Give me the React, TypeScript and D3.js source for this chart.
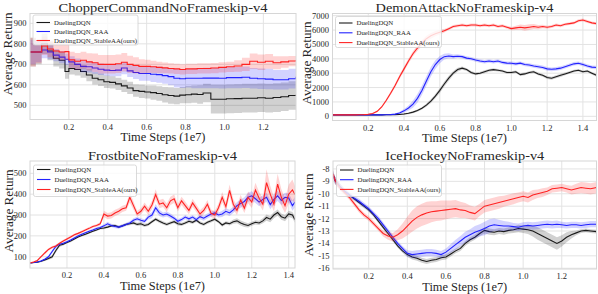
import React from "react";
import * as d3 from "d3";

const seriesNames = ["DuelingDQN", "DuelingDQN_RAA", "DuelingDQN_StableAA(ours)"];
const seriesColors = ["#1a1a1a", "#2222ff", "#ff2222"];

// ChopperCommand (step curves)
const chopperX = [0, 0.03, 0.06, 0.09, 0.12, 0.15, 0.18, 0.2, 0.23, 0.26, 0.29, 0.32, 0.35, 0.38, 0.41, 0.44, 0.47, 0.5, 0.53, 0.56, 0.59, 0.62, 0.65, 0.68, 0.71, 0.74, 0.77, 0.8, 0.83, 0.86, 0.89, 0.93, 0.97, 1.01, 1.05, 1.09, 1.13, 1.17, 1.21, 1.25, 1.29, 1.33, 1.368];
const chopperDqn = [760, 760, 800, 765, 730, 720, 665, 680, 675, 665, 648, 632, 625, 615, 612, 605, 595, 585, 572, 568, 565, 562, 558, 552, 548, 545, 550, 552, 555, 553, 560, 530, 530, 532, 533, 535, 535, 537, 535, 538, 542, 548, 552];
const chopperDqnBand = [70, 60, 50, 45, 40, 40, 35, 30, 30, 30, 30, 30, 30, 30, 30, 30, 30, 30, 30, 32, 32, 35, 35, 38, 40, 40, 40, 42, 42, 45, 45, 70, 70, 70, 70, 70, 70, 70, 70, 70, 70, 70, 70];
const chopperRaa = [760, 760, 770, 760, 745, 735, 725, 712, 700, 690, 688, 682, 676, 672, 670, 672, 682, 668, 660, 655, 655, 652, 650, 645, 640, 632, 630, 632, 632, 632, 633, 633, 632, 635, 635, 637, 632, 630, 628, 625, 625, 630, 640];
const chopperRaaBand = [60, 50, 40, 35, 30, 30, 28, 28, 28, 28, 28, 28, 28, 28, 28, 30, 30, 30, 32, 35, 35, 38, 40, 40, 42, 45, 45, 45, 48, 48, 50, 50, 50, 52, 52, 52, 50, 50, 50, 48, 48, 48, 48];
const chopperOurs = [760, 760, 790, 775, 765, 760, 762, 722, 715, 720, 712, 708, 700, 700, 700, 703, 710, 700, 695, 690, 690, 688, 685, 683, 680, 678, 675, 678, 678, 680, 680, 682, 685, 688, 692, 700, 715, 710, 715, 708, 712, 716, 720];
const chopperOursBand = [70, 55, 45, 40, 40, 40, 40, 40, 40, 42, 42, 45, 45, 45, 45, 45, 45, 42, 40, 35, 32, 30, 28, 26, 25, 25, 25, 25, 25, 25, 25, 25, 25, 25, 28, 32, 38, 38, 36, 32, 28, 25, 22];

// DemonAttack
const demonX = [0, 0.025, 0.05, 0.075, 0.1, 0.125, 0.15, 0.175, 0.2, 0.225, 0.25, 0.275, 0.3, 0.325, 0.35, 0.375, 0.4, 0.425, 0.45, 0.475, 0.5, 0.525, 0.55, 0.575, 0.6, 0.625, 0.65, 0.675, 0.7, 0.725, 0.75, 0.775, 0.8, 0.825, 0.85, 0.875, 0.9, 0.925, 0.95, 0.975, 1.0, 1.025, 1.05, 1.075, 1.1, 1.125, 1.15, 1.175, 1.2, 1.225, 1.25, 1.275, 1.3, 1.325, 1.35, 1.375, 1.4, 1.425, 1.45, 1.476];
const demonDqn = [100, 100, 100, 100, 100, 100, 100, 100, 100, 100, 100, 100, 105, 110, 115, 130, 160, 210, 290, 400, 560, 780, 1050, 1400, 1800, 2250, 2650, 3000, 3250, 3350, 3250, 3050, 2950, 3000, 3100, 3200, 3250, 3200, 3150, 3050, 3050, 3100, 2900, 2950, 3050, 3100, 2950, 2850, 2700, 2650, 2750, 2850, 2950, 3050, 3150, 3200, 3100, 3150, 3000, 2850];
const demonDqnBand = [20, 20, 20, 20, 20, 20, 20, 20, 20, 20, 20, 20, 20, 25, 30, 40, 50, 60, 70, 80, 90, 110, 130, 150, 170, 180, 170, 150, 130, 110, 100, 100, 100, 100, 100, 100, 90, 90, 90, 90, 90, 90, 90, 90, 90, 90, 90, 90, 110, 110, 110, 110, 90, 90, 90, 90, 90, 90, 90, 90];
const demonRaa = [100, 100, 100, 100, 100, 100, 100, 100, 100, 100, 100, 100, 105, 115, 150, 230, 380, 580, 850, 1250, 1800, 2450, 3100, 3600, 3950, 4150, 4200, 4150, 4180, 4150, 4050, 4000, 3920, 3850, 3800, 3850, 3800, 3850, 3750, 3700, 3690, 3650, 3700, 3600, 3570, 3500, 3450, 3400, 3300, 3270, 3300, 3350, 3450, 3550, 3650, 3690, 3600, 3500, 3420, 3400];
const demonRaaBand = [20, 20, 20, 20, 20, 20, 20, 20, 20, 20, 20, 20, 20, 30, 50, 80, 120, 180, 250, 300, 320, 330, 330, 300, 250, 200, 180, 150, 130, 120, 120, 120, 120, 120, 120, 120, 120, 120, 120, 120, 120, 120, 120, 120, 130, 130, 130, 130, 130, 130, 130, 130, 120, 120, 120, 120, 120, 120, 120, 120];
const demonOurs = [100, 100, 100, 100, 100, 100, 105, 115, 140, 200, 350, 650, 1100, 1600, 2150, 2750, 3300, 3850, 4350, 4750, 5100, 5400, 5600, 5750, 5850, 5950, 6100, 6250, 6300, 6350, 6300, 6350, 6350, 6300, 6350, 6300, 6350, 6250, 6300, 6200, 6100, 6150, 6200, 6150, 6200, 6250, 6200, 6250, 6200, 6250, 6350, 6300, 6400, 6450, 6500, 6650, 6700, 6600, 6500, 6450];
const demonOursBand = [20, 20, 20, 20, 20, 20, 20, 20, 30, 40, 60, 80, 100, 120, 140, 150, 160, 170, 180, 190, 200, 200, 200, 180, 150, 120, 100, 100, 100, 100, 100, 100, 100, 100, 100, 100, 100, 100, 100, 100, 120, 150, 180, 200, 200, 180, 150, 120, 100, 100, 100, 100, 100, 100, 100, 100, 100, 100, 100, 100];

// Frostbite
const frostX = [0, 0.02, 0.04, 0.06, 0.08, 0.1, 0.12, 0.14, 0.16, 0.18, 0.2, 0.22, 0.24, 0.26, 0.28, 0.3, 0.32, 0.34, 0.36, 0.38, 0.4, 0.42, 0.44, 0.46, 0.48, 0.5, 0.52, 0.54, 0.56, 0.58, 0.6, 0.62, 0.64, 0.66, 0.68, 0.7, 0.72, 0.74, 0.76, 0.78, 0.8, 0.82, 0.84, 0.86, 0.88, 0.9, 0.92, 0.94, 0.96, 0.98, 1.0, 1.02, 1.04, 1.06, 1.08, 1.1, 1.12, 1.14, 1.16, 1.18, 1.2, 1.22, 1.24, 1.26, 1.28, 1.3, 1.32, 1.34, 1.36, 1.38, 1.4, 1.42, 1.434];
const frostDqn = [70, 72, 74, 78, 85, 92, 100, 130, 155, 160, 168, 175, 185, 195, 202, 208, 215, 222, 228, 235, 238, 242, 248, 250, 242, 248, 255, 258, 262, 255, 258, 250, 255, 268, 280, 270, 262, 255, 262, 268, 258, 255, 262, 270, 265, 275, 262, 255, 265, 272, 280, 268, 252, 262, 258, 268, 272, 262, 255, 250, 258, 265, 262, 272, 288, 280, 300, 312, 292, 285, 305, 300, 278];
const frostDqnBand = [3, 3, 3, 4, 5, 6, 8, 10, 8, 6, 5, 5, 5, 5, 5, 5, 5, 5, 5, 5, 6, 6, 6, 6, 6, 6, 6, 7, 8, 8, 8, 8, 8, 8, 8, 8, 8, 8, 8, 8, 8, 8, 8, 8, 8, 8, 8, 8, 8, 8, 8, 8, 8, 8, 8, 10, 12, 12, 12, 10, 10, 10, 10, 12, 15, 15, 15, 15, 15, 15, 15, 15, 15];
const frostRaa = [70, 72, 75, 80, 88, 100, 125, 150, 160, 165, 172, 180, 190, 200, 208, 215, 222, 228, 235, 240, 248, 258, 250, 245, 242, 248, 255, 262, 275, 282, 275, 270, 290, 300, 335, 310, 300, 305, 295, 285, 270, 278, 290, 282, 290, 278, 292, 285, 295, 305, 310, 300, 305, 318, 310, 325, 345, 355, 365, 385, 392, 378, 362, 375, 385, 350, 375, 392, 370, 385, 382, 345, 362];
const frostRaaBand = [3, 3, 3, 4, 5, 6, 8, 8, 6, 5, 5, 5, 5, 5, 5, 5, 5, 6, 6, 6, 8, 10, 8, 8, 8, 8, 8, 8, 10, 10, 10, 10, 12, 15, 18, 15, 12, 12, 12, 10, 10, 10, 10, 10, 10, 10, 12, 12, 12, 12, 12, 12, 15, 15, 15, 15, 18, 20, 20, 22, 22, 20, 20, 20, 22, 22, 25, 25, 22, 22, 22, 25, 25];
const frostOurs = [70, 75, 82, 100, 118, 135, 145, 152, 165, 175, 185, 195, 205, 212, 220, 228, 236, 245, 250, 258, 305, 295, 298, 310, 318, 330, 335, 385, 345, 305, 318, 342, 318, 348, 398, 352, 358, 335, 368, 378, 335, 368, 345, 322, 358, 332, 305, 322, 352, 308, 300, 335, 385, 340, 418, 352, 322, 372, 332, 385, 362, 420, 380, 352, 455, 400, 352, 448, 385, 345, 400, 420, 398];
const frostOursBand = [3, 3, 4, 5, 6, 6, 6, 6, 6, 6, 6, 6, 6, 6, 6, 6, 6, 6, 6, 8, 15, 15, 15, 15, 15, 15, 15, 25, 20, 15, 15, 18, 18, 20, 25, 20, 20, 20, 20, 20, 18, 20, 20, 18, 20, 18, 18, 18, 20, 18, 18, 20, 25, 22, 28, 25, 22, 25, 22, 28, 28, 35, 30, 30, 65, 40, 35, 50, 40, 35, 45, 50, 40];

// IceHockey
const iceX = [0.015, 0.025, 0.05, 0.075, 0.1, 0.125, 0.15, 0.175, 0.2, 0.225, 0.25, 0.275, 0.3, 0.325, 0.35, 0.375, 0.4, 0.425, 0.45, 0.475, 0.5, 0.525, 0.55, 0.575, 0.6, 0.625, 0.65, 0.675, 0.7, 0.725, 0.75, 0.775, 0.8, 0.825, 0.85, 0.875, 0.9, 0.925, 0.95, 0.975, 1.0, 1.025, 1.05, 1.075, 1.1, 1.125, 1.15, 1.175, 1.2, 1.225, 1.25, 1.275, 1.3, 1.325, 1.35, 1.38];
const iceDqn = [-8.4, -8.9, -9.4, -9.8, -10.1, -10.4, -10.7, -11.0, -11.3, -11.7, -12.2, -12.7, -13.2, -13.7, -14.2, -14.6, -14.9, -15.1, -15.2, -15.35, -15.45, -15.35, -15.3, -15.15, -15.1, -14.85, -14.6, -14.4, -14.0, -13.7, -13.5, -13.2, -12.95, -13.05, -13.1, -13.0, -13.05, -12.95, -12.9, -12.8, -12.85, -12.9, -13.0, -13.2, -13.4, -13.6, -13.8, -14.0, -13.8, -13.5, -13.3, -13.15, -13.0, -12.95, -13.0, -13.05];
const iceDqnBand = [0.3, 0.3, 0.25, 0.2, 0.15, 0.15, 0.15, 0.15, 0.15, 0.15, 0.15, 0.15, 0.15, 0.15, 0.15, 0.15, 0.2, 0.2, 0.2, 0.2, 0.2, 0.2, 0.2, 0.2, 0.2, 0.2, 0.2, 0.2, 0.2, 0.2, 0.2, 0.2, 0.25, 0.25, 0.25, 0.25, 0.25, 0.25, 0.25, 0.3, 0.3, 0.35, 0.45, 0.5, 0.5, 0.5, 0.5, 0.5, 0.45, 0.4, 0.3, 0.2, 0.15, 0.15, 0.15, 0.15];
const iceRaa = [-8.4, -8.9, -9.4, -9.8, -10.1, -10.35, -10.6, -10.9, -11.2, -11.6, -12.0, -12.5, -13.0, -13.5, -14.0, -14.4, -14.8, -14.9, -14.85, -14.8, -14.75, -14.75, -14.8, -14.9, -14.7, -14.4, -14.1, -13.8, -13.5, -13.3, -13.1, -12.95, -12.8, -12.6, -12.5, -12.55, -12.6, -12.6, -12.65, -12.7, -12.6, -12.55, -12.6, -12.55, -12.5, -12.45, -12.5, -12.45, -12.5, -12.55, -12.5, -12.5, -12.55, -12.5, -12.45, -12.45];
const iceRaaBand = [0.3, 0.3, 0.25, 0.2, 0.2, 0.2, 0.2, 0.2, 0.2, 0.2, 0.2, 0.2, 0.2, 0.2, 0.2, 0.2, 0.25, 0.3, 0.3, 0.3, 0.3, 0.3, 0.3, 0.3, 0.3, 0.35, 0.4, 0.4, 0.45, 0.45, 0.5, 0.5, 0.55, 0.55, 0.5, 0.45, 0.4, 0.35, 0.3, 0.3, 0.3, 0.3, 0.3, 0.3, 0.3, 0.3, 0.3, 0.3, 0.25, 0.25, 0.25, 0.25, 0.25, 0.25, 0.25, 0.25];
const iceOurs = [-8.4, -8.9, -9.5, -9.9, -10.3, -10.8, -11.3, -11.7, -12.0, -12.4, -12.8, -13.2, -13.4, -13.5, -13.3, -13.0, -12.6, -12.2, -11.9, -11.7, -11.55, -11.45, -11.4, -11.35, -11.3, -11.25, -11.2, -11.3, -11.35, -11.5, -11.6, -11.3, -11.0, -10.9, -10.8, -10.7, -10.6, -10.5, -10.4, -10.3, -10.2, -10.3, -10.1, -10.0, -9.9, -9.8, -9.6, -9.55, -9.5, -9.6, -9.7, -9.6, -9.5, -9.55, -9.6, -9.5];
const iceOursBand = [0.3, 0.3, 0.25, 0.2, 0.2, 0.2, 0.2, 0.2, 0.2, 0.2, 0.2, 0.25, 0.3, 0.35, 0.45, 0.6, 0.75, 0.85, 0.9, 0.9, 0.9, 0.85, 0.8, 0.8, 0.75, 0.7, 0.7, 0.65, 0.6, 0.55, 0.55, 0.5, 0.5, 0.5, 0.5, 0.5, 0.45, 0.45, 0.45, 0.4, 0.4, 0.4, 0.4, 0.35, 0.35, 0.3, 0.3, 0.3, 0.3, 0.3, 0.35, 0.4, 0.45, 0.45, 0.45, 0.45];

const serif = "Liberation Serif, DejaVu Serif, serif";
const ink = "#262626";
const gridColor = "#e3e3e3";

const panels = [
  {
    id: "chopper", title: "ChopperCommandNoFrameskip-v4", titleW: 209, xs: chopperX,
    series: [
      { mean: chopperDqn, band: chopperDqnBand },
      { mean: chopperRaa, band: chopperRaaBand },
      { mean: chopperOurs, band: chopperOursBand },
    ],
    xDomain: [0, 1.368], yDomain: [431, 948],
    xTicks: [0.2, 0.4, 0.6, 0.8, 1.0, 1.2], yTicks: [500, 600, 700, 800, 900],
    box: { left: 30, top: 13.5, right: 296, bottom: 119.5 },
    legend: { x: 33, y: 15, w: 105, h: 30, first: 7.5, dy: 9 },
    yLabelX: 12, yLabelY: 54, curve: d3.curveStepAfter,
  },
  {
    id: "demon", title: "DemonAttackNoFrameskip-v4", titleW: 178, xs: demonX,
    series: [
      { mean: demonDqn, band: demonDqnBand },
      { mean: demonRaa, band: demonRaaBand },
      { mean: demonOurs, band: demonOursBand },
    ],
    xDomain: [0, 1.476], yDomain: [-292, 7153],
    xTicks: [0.2, 0.4, 0.6, 0.8, 1.0, 1.2, 1.4], yTicks: [0, 1000, 2000, 3000, 4000, 5000, 6000, 7000],
    box: { left: 332.5, top: 13.5, right: 596.5, bottom: 120.5 },
    legend: { x: 335.5, y: 16.5, w: 106, h: 31, first: 6.5, dy: 9.8 },
    yLabelX: 311, yLabelY: 63, curve: d3.curveLinear,
  },
  {
    id: "frost", title: "FrostbiteNoFrameskip-v4", titleW: 149, xs: frostX,
    series: [
      { mean: frostDqn, band: frostDqnBand },
      { mean: frostRaa, band: frostRaaBand },
      { mean: frostOurs, band: frostOursBand },
    ],
    xDomain: [0, 1.434], yDomain: [46, 559],
    xTicks: [0.2, 0.4, 0.6, 0.8, 1.0, 1.2, 1.4], yTicks: [100, 200, 300, 400, 500],
    box: { left: 30, top: 161, right: 295, bottom: 268 },
    legend: { x: 33.5, y: 165, w: 103, h: 31.5, first: 4.5, dy: 10 },
    yLabelX: 13, yLabelY: 211, curve: d3.curveLinear,
  },
  {
    id: "ice", title: "IceHockeyNoFrameskip-v4", titleW: 159, xs: iceX,
    series: [
      { mean: iceDqn, band: iceDqnBand },
      { mean: iceRaa, band: iceRaaBand },
      { mean: iceOurs, band: iceOursBand },
    ],
    xDomain: [0.015, 1.38], yDomain: [-16.06, -7.36],
    xTicks: [0.2, 0.4, 0.6, 0.8, 1.0, 1.2], yTicks: [-16, -15, -14, -13, -12, -11, -10, -9, -8],
    box: { left: 333, top: 161, right: 596.5, bottom: 269 },
    legend: { x: 336.5, y: 165, w: 105, h: 31.5, first: 5, dy: 9.7 },
    yLabelX: 313, yLabelY: 215, curve: d3.curveLinear,
  },
];

function Panel({ p }: { p: any }) {
  const { box } = p;
  const x = d3.scaleLinear().domain(p.xDomain).range([box.left, box.right]);
  const y = d3.scaleLinear().domain(p.yDomain).range([box.bottom, box.top]);
  const fmtX = d3.format(".1f");
  const cx = (box.left + box.right) / 2;
  const clipId = `clip-${p.id}`;

  return (
    <g>
      <defs>
        <clipPath id={clipId}>
          <rect x={box.left} y={box.top} width={box.right - box.left} height={box.bottom - box.top} />
        </clipPath>
      </defs>
      {/* grid */}
      {p.xTicks.map((t: number) => (
        <line key={"gx" + t} x1={x(t)} x2={x(t)} y1={box.top} y2={box.bottom} stroke={gridColor} strokeWidth={1} />
      ))}
      {p.yTicks.map((t: number) => (
        <line key={"gy" + t} x1={box.left} x2={box.right} y1={y(t)} y2={y(t)} stroke={gridColor} strokeWidth={1} />
      ))}
      {/* curves */}
      <g clipPath={`url(#${clipId})`}>
        {p.series.map((s: any, i: number) => {
          const pts = p.xs.map((xv: number, k: number) => ({ x: xv, m: s.mean[k], b: s.band[k] }));
          const area = d3.area<any>().x((d) => x(d.x)).y0((d) => y(d.m - d.b)).y1((d) => y(d.m + d.b)).curve(p.curve);
          const line = d3.line<any>().x((d) => x(d.x)).y((d) => y(d.m)).curve(p.curve);
          return (
            <g key={i}>
              <path d={area(pts) || ""} fill={seriesColors[i]} fillOpacity={0.2} stroke="none" />
              <path d={line(pts) || ""} fill="none" stroke={seriesColors[i]} strokeWidth={1.1} />
            </g>
          );
        })}
      </g>
      {/* frame */}
      <rect x={box.left} y={box.top} width={box.right - box.left} height={box.bottom - box.top} fill="none" stroke="#d6d6d6" strokeWidth={1} />
      {/* tick labels */}
      {p.xTicks.map((t: number) => (
        <text key={"tx" + t} x={x(t)} y={box.bottom + 10} textAnchor="middle" fontSize={8.5} style={{ fontFamily: serif }} fill={ink}>
          {fmtX(t)}
        </text>
      ))}
      {p.yTicks.map((t: number) => (
        <text key={"ty" + t} x={box.left - 3.5} y={y(t) + 3} textAnchor="end" fontSize={8.5} style={{ fontFamily: serif }} fill={ink}>
          {String(t)}
        </text>
      ))}
      {/* titles */}
      <text x={cx} y={box.top - 1.3} textAnchor="middle" fontSize={13.5} textLength={p.titleW} lengthAdjust="spacingAndGlyphs" style={{ fontFamily: serif }} fill={ink}>
        {p.title}
      </text>
      <text x={cx} y={box.bottom + 21.5} textAnchor="middle" fontSize={12.5} textLength={85} lengthAdjust="spacingAndGlyphs" style={{ fontFamily: serif }} fill={ink}>
        Time Steps (1e7)
      </text>
      <text transform={`translate(${p.yLabelX},${p.yLabelY}) rotate(-90)`} textAnchor="middle" fontSize={13} textLength={83} lengthAdjust="spacingAndGlyphs" style={{ fontFamily: serif }} fill={ink}>
        Average Return
      </text>
      {/* legend */}
      <g>
        <rect x={p.legend.x} y={p.legend.y} width={p.legend.w} height={p.legend.h} rx={2} fill="#fff" fillOpacity={0.8} stroke="#d0d0d0" strokeWidth={0.8} />
        {seriesNames.map((name, i) => {
          const ly = p.legend.y + p.legend.first + i * p.legend.dy;
          return (
            <g key={name}>
              <line x1={p.legend.x + 3.5} x2={p.legend.x + 17} y1={ly} y2={ly} stroke={seriesColors[i]} strokeWidth={1.1} />
              <text x={p.legend.x + 21} y={ly + 2.4} fontSize={6.8} style={{ fontFamily: serif }} fill={ink}>
                {name}
              </text>
            </g>
          );
        })}
      </g>
    </g>
  );
}

export default function App() {
  return (
    <svg width={598} height={294} style={{ position: "absolute", left: 0, top: 0, background: "#fff" }}>
      <rect width={598} height={294} fill="#fff" />
      {panels.map((p) => (
        <Panel key={p.id} p={p} />
      ))}
    </svg>
  );
}
